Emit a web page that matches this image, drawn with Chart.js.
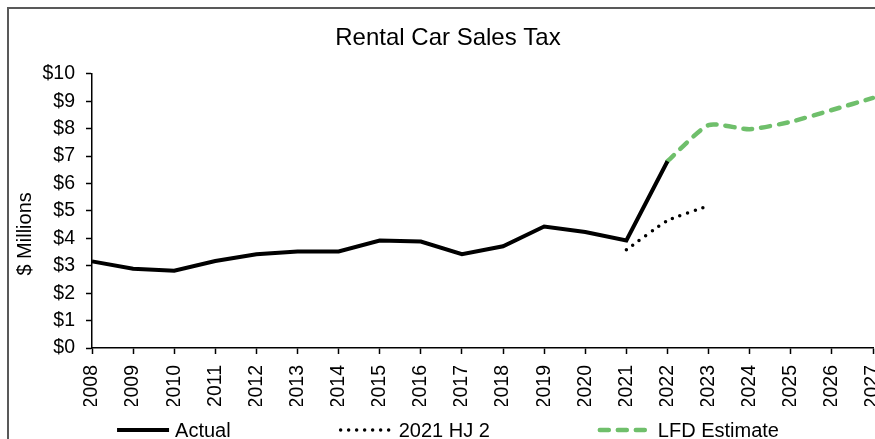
<!DOCTYPE html>
<html>
<head>
<meta charset="utf-8">
<script src="https://cdn.jsdelivr.net/npm/chart.js@4.4.1/dist/chart.umd.min.js"></script>
<style>
  html, body { margin: 0; padding: 0; background: #fff; overflow: hidden; }
  .frame { position: absolute; left: 7px; top: 7px; width: 878px; height: 452px; border: 2px solid #595959; }
  canvas { display: block; }
</style>
</head>
<body>
<div class="frame"><canvas id="myChart" width="878" height="452"></canvas></div>
<script>
var years = ['2008', '2009', '2010', '2011', '2012', '2013', '2014', '2015', '2016', '2017',
             '2018', '2019', '2020', '2021', '2022', '2023', '2024', '2025', '2026', '2027'];
var actual = [3.16, 2.89, 2.82, 3.17, 3.42, 3.52, 3.52, 3.92, 3.88, 3.42,
              3.71, 4.43, 4.23, 3.92, 6.81, null, null, null, null, null];
var hj2 = [null, null, null, null, null, null, null, null, null, null,
           null, null, null, 3.58, 4.65, 5.19, null, null, null, null];
var lfd = [null, null, null, null, null, null, null, null, null, null,
           null, null, null, null, 6.81, 8.13, 7.98, 8.25, 8.68, 9.12];
var yTicks = [0, 1, 2, 3, 4, 5, 6, 7, 8, 9, 10];
var yTitle = '$ Millions';

var font = 'Liberation Sans, Arial, sans-serif';

// legend row under the axis + the y title (excel puts it a bit below the middle)
var extras = {
  id: 'extras',
  afterDraw: function (chart) {
    var c = chart.ctx;
    var items = chart.data.datasets;
    var boxW = 52, gap = 6, spacing = 110;
    c.save();
    c.font = '20px ' + font;
    c.fillStyle = '#000';
    c.textBaseline = 'middle';
    var widths = items.map(function (ds) { return boxW + gap + c.measureText(ds.label).width; });
    var total = widths.reduce(function (a, b) { return a + b; }, 0) + spacing * (items.length - 1);
    var x = (chart.width - total) / 2;
    var y = chart.scales.x.bottom + 24;
    items.forEach(function (ds, i) {
      c.beginPath();
      c.setLineDash(ds.borderDash || []);
      c.lineCap = ds.borderCapStyle || 'butt';
      c.lineWidth = ds.borderWidth;
      c.strokeStyle = ds.borderColor;
      c.moveTo(x, y);
      c.lineTo(x + boxW, y);
      c.stroke();
      c.setLineDash([]);
      c.fillText(ds.label, x + boxW + gap, y + 1);
      x += widths[i] + spacing;
    });

    var area = chart.chartArea;
    c.translate(16, (area.top + area.bottom) / 2 + 23);
    c.rotate(-Math.PI / 2);
    c.textAlign = 'center';
    c.fillText(yTitle, 0, 0);
    c.restore();
  }
};

var ctx = document.getElementById('myChart').getContext('2d');
new Chart(ctx, {
  type: 'line',
  data: {
    labels: years,
    datasets: [{
      label: 'Actual',
      data: actual,
      borderColor: '#000000',
      backgroundColor: '#000000',
      borderWidth: 4,
      tension: 0,
      pointRadius: 0,
      borderCapStyle: 'butt'
    }, {
      label: '2021 HJ 2',
      data: hj2,
      borderColor: '#000000',
      backgroundColor: '#000000',
      borderWidth: 3.5,
      borderDash: [0, 8],
      borderCapStyle: 'round',
      tension: 0.15,
      pointRadius: 0
    }, {
      label: 'LFD Estimate',
      data: lfd,
      borderColor: '#6fbf6b',
      backgroundColor: '#6fbf6b',
      borderWidth: 4.5,
      borderDash: [9, 9],
      borderCapStyle: 'round',
      tension: 0.2,
      pointRadius: 0
    }]
  },
  plugins: [extras],
  options: {
    responsive: false,
    animation: false,
    layout: { padding: { left: 14, right: 14, top: 0, bottom: 55 } },
    plugins: {
      title: {
        display: true,
        text: 'Rental Car Sales Tax',
        color: '#000',
        font: { family: font, size: 24, weight: 'normal' },
        padding: { top: 15, bottom: 21 }
      },
      legend: { display: false },
      tooltip: { enabled: false }
    },
    scales: {
      x: {
        offset: false,
        afterFit: function (axis) {
          axis.paddingLeft = 0;
          axis.paddingRight = 0;
          axis.height = 58;
        },
        grid: { drawOnChartArea: false, tickLength: 6, tickColor: '#000', tickWidth: 1.5 },
        border: { color: '#000', width: 1.5 },
        ticks: {
          color: '#000',
          font: { family: font, size: 19.5 },
          minRotation: 90,
          maxRotation: 90,
          padding: 11,
          autoSkip: false
        }
      },
      y: {
        min: 0,
        max: 10,
        afterBuildTicks: function (axis) {
          axis.ticks = yTicks.map(function (v) { return { value: v }; });
        },
        afterFit: function (axis) {
          axis.width = 69;
        },
        grid: { drawOnChartArea: false, tickLength: 6, tickColor: '#000', tickWidth: 1.5 },
        border: { color: '#000', width: 1.5 },
        ticks: {
          color: '#000',
          font: { family: font, size: 19.5 },
          padding: 11,
          autoSkip: false,
          callback: function (v) { return '$' + v; }
        }
      }
    }
  }
});
</script>
</body>
</html>
